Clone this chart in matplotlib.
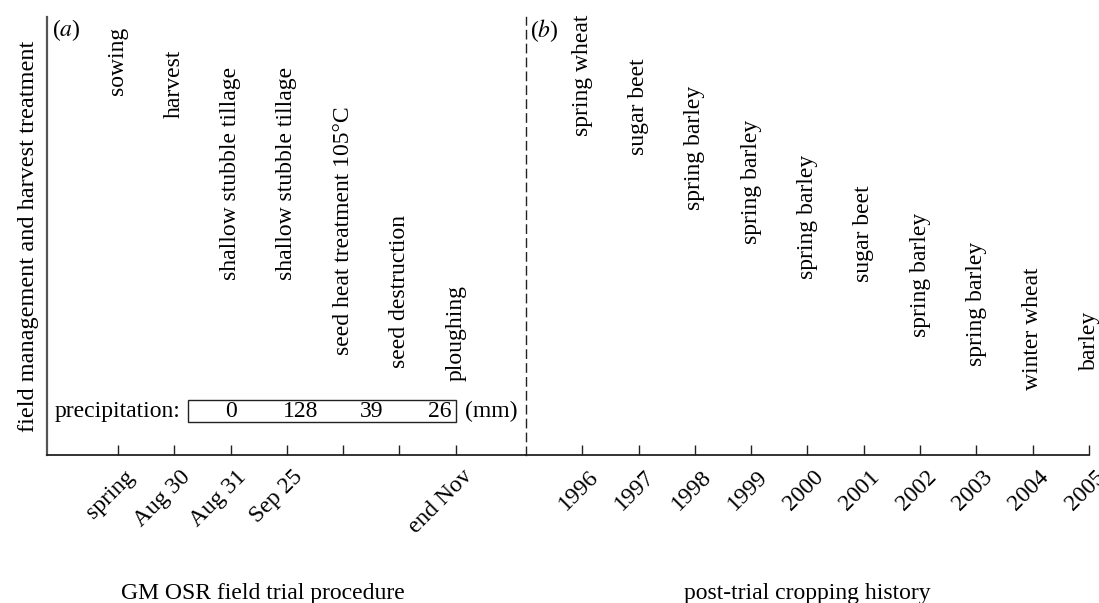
import numpy as np
import matplotlib.pyplot as plt
from matplotlib.transforms import ScaledTranslation

plt.rcParams['font.family'] = ['Liberation Serif', 'DejaVu Serif']
plt.rcParams['mathtext.fontset'] = 'stix'

# panel (a): field trial procedure
steps = ['sowing', 'harvest', 'shallow stubble tillage', 'shallow stubble tillage',
         'seed heat treatment 105°C', 'seed destruction', 'ploughing']
step_pos = [1, 2, 3, 4, 5, 6, 7]
step_top = [0.977, 0.925, 0.886, 0.886, 0.795, 0.548, 0.388]
step_ticks = ['spring', 'Aug 30', 'Aug 31', 'Sep 25', '', '', 'end Nov']

precip = ['0', '128', '39', '26']
precip_pos = [3.0, 4.25, 5.5, 6.72]

# panel (b): cropping history
years = [1996, 1997, 1998, 1999, 2000, 2001, 2002, 2003, 2004, 2005]
crops = ['spring wheat', 'sugar beet', 'spring barley', 'spring barley', 'spring barley',
         'sugar beet', 'spring barley', 'spring barley', 'winter wheat', 'barley']
crop_top = [1.005, 0.906, 0.842, 0.765, 0.685, 0.616, 0.553, 0.486, 0.429, 0.330]

fs = 17
fig = plt.figure(figsize=(10.99, 6.03), dpi=100)
ax1 = fig.add_axes([0.0428, 0.2454, 0.4359, 0.7264])
ax2 = fig.add_axes([0.4786, 0.2454, 0.5123, 0.7264])
shift = ScaledTranslation(4 / 72, 0, fig.dpi_scale_trans)

for ax in (ax1, ax2):
    ax.set_ylim(0, 1)
    ax.set_yticks([])
    ax.spines['top'].set_visible(False)
    ax.spines['right'].set_visible(False)
    ax.spines['bottom'].set_linewidth(1.3)
    ax.spines['bottom'].set_color('#222222')
    ax.spines['left'].set_linewidth(1.6)
    ax.spines['left'].set_color('#555555')
    ax.tick_params(axis='x', direction='in', length=7.5, width=1.0, pad=8,
                   color='#222222')

ax1.set_xlim(-0.26, 8.25)
ax1.set_xticks(step_pos)
ax1.set_xticklabels(step_ticks, rotation=45, ha='right', va='top',
                    rotation_mode='anchor', fontsize=fs)
for x, t, s in zip(step_pos, step_top, steps):
    ax1.text(x, t, s, rotation=90, ha='center', va='top', fontsize=fs,
             transform=ax1.get_xaxis_transform())

# precipitation box
box_y = 0.1
ax1.text(-0.13, box_y, 'precipitation:', ha='left', va='center', fontsize=fs,
         transform=ax1.get_xaxis_transform())
ax1.add_patch(plt.Rectangle((2.24, box_y - 0.025), 7 - 2.24, 0.05, fill=False,
                            lw=1.0, ec='#222222', transform=ax1.get_xaxis_transform()))
for x, v in zip(precip_pos, precip):
    ax1.text(x, box_y, v, ha='center', va='center', fontsize=fs,
             transform=ax1.get_xaxis_transform())
ax1.text(7.16, box_y, '(mm)', ha='left', va='center', fontsize=fs,
         transform=ax1.get_xaxis_transform())

ax1.text(0.01, 1.0, r'($\it{a}$)', ha='left', va='top', fontsize=fs,
         transform=ax1.transAxes)
ax1.set_ylabel('field management and harvest treatment', fontsize=17.5, labelpad=6)
ax1.text(0.45, -0.329, 'GM OSR field trial procedure', ha='center', va='baseline',
         fontsize=fs, transform=ax1.transAxes)

ax2.set_xlim(1995, 2005)
ax2.spines['left'].set_linestyle((0, (6, 4)))
ax2.spines['left'].set_linewidth(1.0)
ax2.spines['left'].set_color('#222222')
ax2.set_xticks(years)
ax2.set_xticklabels([str(y) for y in years], rotation=45, ha='right', va='top',
                    rotation_mode='anchor', fontsize=fs)
for x, t, s in zip(years, crop_top, crops):
    ax2.text(x, t, s, rotation=90, ha='center', va='top', fontsize=fs,
             transform=ax2.get_xaxis_transform())
ax2.text(0.008, 1.0, r'($\it{b}$)', ha='left', va='top', fontsize=fs,
         transform=ax2.transAxes)
ax2.text(0.5, -0.329, 'post-trial cropping history', ha='center', va='baseline',
         fontsize=fs, transform=ax2.transAxes)

for ax in (ax1, ax2):
    for lab in ax.get_xticklabels():
        lab.set_transform(lab.get_transform() + shift)

fig.savefig('out.png', dpi=100)
